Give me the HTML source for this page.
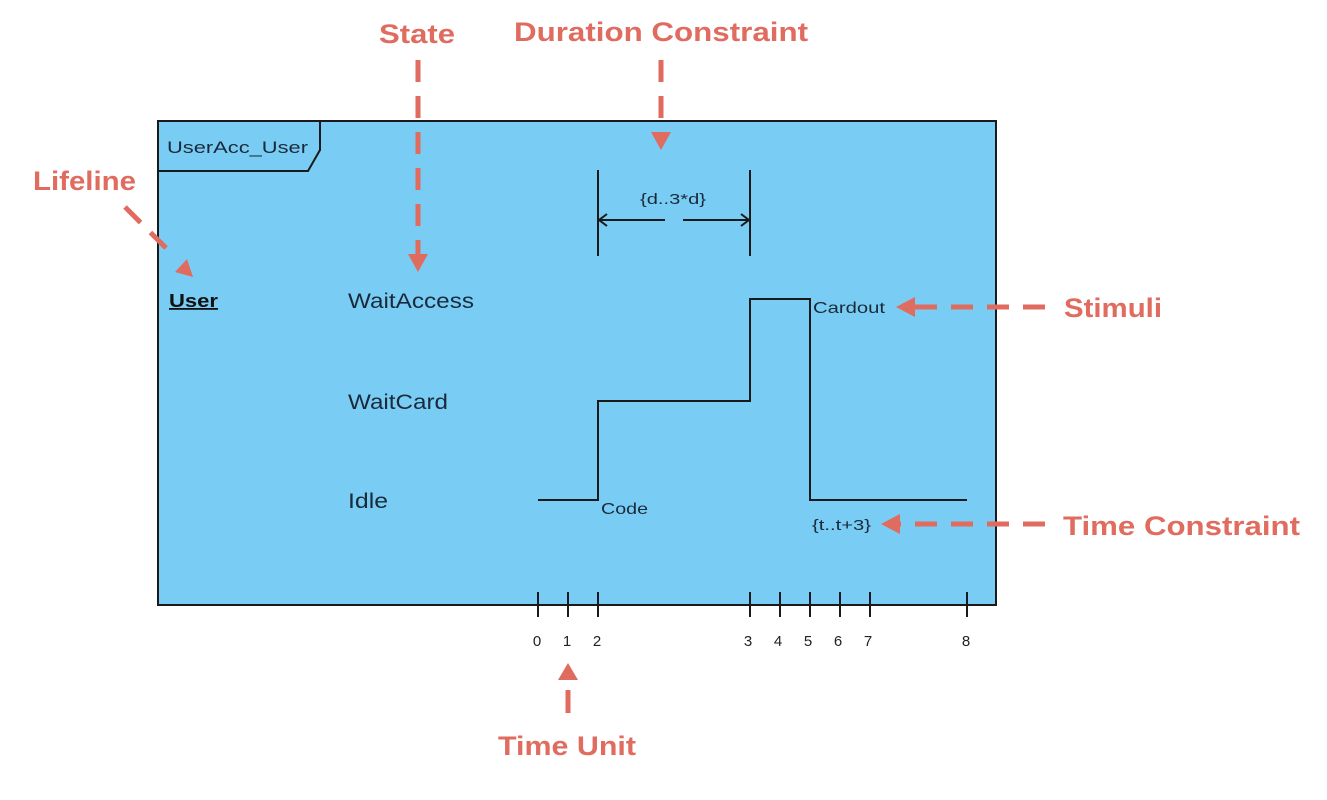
<!DOCTYPE html>
<html><head><meta charset="utf-8"><style>
html,body{margin:0;padding:0;background:#fff;}
svg{display:block;}
text{font-family:"Liberation Sans",sans-serif;}
.r{fill:#e06b5f;font-weight:bold;font-size:27px;}
.d{stroke:#e06b5f;stroke-width:5;stroke-dasharray:22,14;fill:none;}
.k{stroke:#1a1a1a;stroke-width:2;fill:none;}
</style></head><body>
<svg width="1327" height="800" viewBox="0 0 1327 800">
<rect x="158" y="121" width="838" height="484" fill="#79cdf4" stroke="#1a1a1a" stroke-width="2"/>
<path class="k" d="M158,171 H308 L320,150 V121"/>
<text x="167" y="153" font-size="17" fill="#1a2a3a" textLength="141" lengthAdjust="spacingAndGlyphs">UserAcc_User</text>
<text x="169" y="307" font-size="18" font-weight="bold" fill="#111" text-decoration="underline" textLength="49" lengthAdjust="spacingAndGlyphs">User</text>
<text x="348" y="308" font-size="21" fill="#1a2a3a" textLength="126" lengthAdjust="spacingAndGlyphs">WaitAccess</text>
<text x="348" y="409" font-size="21" fill="#1a2a3a" textLength="100" lengthAdjust="spacingAndGlyphs">WaitCard</text>
<text x="348" y="508" font-size="21" fill="#1a2a3a" textLength="40" lengthAdjust="spacingAndGlyphs">Idle</text>
<path class="k" d="M538,500 H598 V401 H750 V299 H810 V500 H967"/>
<text x="601" y="514" font-size="16" fill="#1a2a3a" textLength="47" lengthAdjust="spacingAndGlyphs">Code</text>
<text x="813" y="313" font-size="16" fill="#1a2a3a" textLength="72" lengthAdjust="spacingAndGlyphs">Cardout</text>
<text x="812" y="530" font-size="15" fill="#1a2a3a" textLength="59" lengthAdjust="spacingAndGlyphs">{t..t+3}</text>
<line class="k" x1="598" y1="170" x2="598" y2="256"/>
<line class="k" x1="750" y1="170" x2="750" y2="256"/>
<line class="k" x1="598" y1="220" x2="665" y2="220"/>
<line class="k" x1="683" y1="220" x2="750" y2="220"/>
<path class="k" d="M607,214 L599,220 L607,226 M741,214 L749,220 L741,226"/>
<text x="640" y="204" font-size="15" fill="#1a2a3a" textLength="66" lengthAdjust="spacingAndGlyphs">{d..3*d}</text>
<g class="k">
<line x1="538" y1="592" x2="538" y2="617"/><line x1="568" y1="592" x2="568" y2="617"/>
<line x1="598" y1="592" x2="598" y2="617"/><line x1="750" y1="592" x2="750" y2="617"/>
<line x1="780" y1="592" x2="780" y2="617"/><line x1="810" y1="592" x2="810" y2="617"/>
<line x1="840" y1="592" x2="840" y2="617"/><line x1="870" y1="592" x2="870" y2="617"/>
<line x1="967" y1="592" x2="967" y2="617"/>
</g>
<g font-size="15" fill="#222" text-anchor="middle">
<text x="537" y="646">0</text><text x="567" y="646">1</text><text x="597" y="646">2</text>
<text x="748" y="646">3</text><text x="778" y="646">4</text><text x="808" y="646">5</text>
<text x="838" y="646">6</text><text x="868" y="646">7</text><text x="966" y="646">8</text>
</g>
<!-- annotations -->
<text class="r" x="379" y="43" textLength="76" lengthAdjust="spacingAndGlyphs">State</text>
<line class="d" x1="418" y1="60" x2="418" y2="255"/>
<polygon fill="#e06b5f" points="408,254 428,254 418,272"/>
<text class="r" x="514" y="41" textLength="294" lengthAdjust="spacingAndGlyphs">Duration Constraint</text>
<line class="d" x1="661" y1="60" x2="661" y2="132"/>
<polygon fill="#e06b5f" points="651,132 671,132 661,150"/>
<text class="r" x="33" y="190" textLength="103" lengthAdjust="spacingAndGlyphs">Lifeline</text>
<line class="d" x1="125" y1="207" x2="175" y2="257"/>
<polygon fill="#e06b5f" points="175,272 193,277 187,259"/>
<text class="r" x="1064" y="317" textLength="98" lengthAdjust="spacingAndGlyphs">Stimuli</text>
<line class="d" x1="1045" y1="307" x2="915" y2="307"/>
<polygon fill="#e06b5f" points="915,297 915,317 896,307"/>
<text class="r" x="1063" y="535" textLength="237" lengthAdjust="spacingAndGlyphs">Time Constraint</text>
<line class="d" x1="1045" y1="524" x2="900" y2="524"/>
<polygon fill="#e06b5f" points="900,514 900,534 881,524"/>
<text class="r" x="498" y="755" textLength="138" lengthAdjust="spacingAndGlyphs">Time Unit</text>
<line stroke="#e06b5f" stroke-width="5" x1="568" y1="690" x2="568" y2="713"/>
<polygon fill="#e06b5f" points="558,680 578,680 568,663"/>
</svg>
</body></html>
